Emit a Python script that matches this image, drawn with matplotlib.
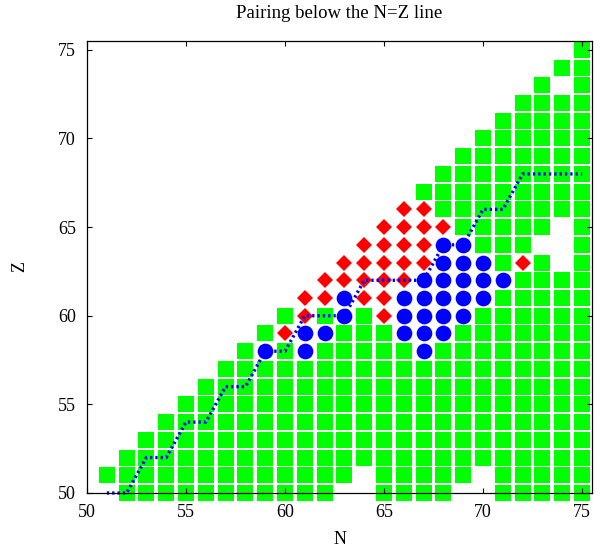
import matplotlib
matplotlib.use('Agg')
import matplotlib.pyplot as plt

plt.rcParams['font.family'] = ['Liberation Serif', 'DejaVu Serif']

# green cells, one run per (N, Zlow..Zhigh)
run_n  = [51, 52, 53, 54, 55, 56, 57, 58, 59, 59, 60, 60, 61, 62, 62, 63, 64, 65, 66,
          67, 67, 68, 68, 69, 69, 70, 70, 71, 71, 72, 72, 73, 73, 74, 74, 74, 75]
run_lo = [51, 50, 50, 50, 50, 50, 50, 50, 50, 59, 50, 60, 50, 50, 60, 51, 52, 50, 50,
          50, 67, 50, 66, 51, 65, 52, 64, 50, 63, 50, 64, 50, 65, 50, 66, 74, 50]
run_hi = [51, 52, 53, 54, 55, 56, 57, 58, 57, 59, 58, 60, 57, 58, 60, 59, 60, 59, 58,
          57, 67, 58, 68, 59, 69, 60, 70, 61, 71, 62, 72, 63, 73, 62, 72, 74, 75]

# red diamonds
red_n = [60, 61, 65, 61, 62, 64, 65, 62, 63, 64, 65, 66,
         63, 64, 65, 66, 67, 72, 64, 65, 66, 67, 65, 66, 67, 68, 66, 67]
red_z = [59, 60, 60, 61, 61, 61, 61, 62, 62, 62, 62, 62,
         63, 63, 63, 63, 63, 63, 64, 64, 64, 64, 65, 65, 65, 65, 66, 66]

# blue circles
blue_n = [59, 61, 67, 61, 62, 66, 67, 68, 63, 66, 67, 68, 69, 63, 66, 67, 68, 69, 70,
          67, 68, 69, 70, 71, 68, 69, 70, 68, 69]
blue_z = [58, 58, 58, 59, 59, 59, 59, 59, 60, 60, 60, 60, 60, 61, 61, 61, 61, 61, 61,
          62, 62, 62, 62, 62, 63, 63, 63, 64, 64]

# dotted staircase
path_n = [51, 52, 53, 54, 55, 56, 57, 58, 59, 60, 61, 63, 64, 67, 68, 69, 70, 71, 72, 75]
path_z = [50, 50, 52, 52, 54, 54, 56, 56, 58, 58, 60, 60, 62, 62, 64, 64, 66, 66, 68, 68]

green_n, green_z = [], []
for n, lo, hi in zip(run_n, run_lo, run_hi):
    for z in range(lo, hi + 1):
        green_n.append(n)
        green_z.append(z)

fig = plt.figure(figsize=(6, 5.5), dpi=100)
ax = fig.add_axes([87/600, 1-493/550, 505/600, 452/550])

ax.plot(green_n, green_z, ls='none', marker='s', ms=12, mew=0, color='#00ff00',
        clip_on=False, zorder=1)
ax.plot(red_n, red_z, ls='none', marker='D', ms=8.1, mew=0, color='#ff0000',
        clip_on=False, zorder=1.5)
ax.plot(path_n, path_z, color='#0000ff', lw=2.4, dashes=(0.7, 0.9),
        dash_capstyle='butt', clip_on=False, zorder=1.8)
ax.plot(blue_n, blue_z, ls='none', marker='o', ms=11.3, mew=0, color='#0000ff',
        clip_on=False, zorder=2)

ax.set_xlim(50, 75.5)
ax.set_ylim(50, 75.5)
ax.set_xticks([50, 55, 60, 65, 70, 75])
ax.set_yticks([50, 55, 60, 65, 70, 75])
ax.tick_params(direction='in', top=True, right=True, length=3.5, width=0.8,
               labelsize=13)
ax.tick_params(axis='x', pad=8)
ax.tick_params(axis='y', pad=8)
for s in ax.spines.values():
    s.set_linewidth(0.9)
    s.set_zorder(3)

ax.set_xlabel('N', fontsize=13)
ax.set_ylabel('Z', fontsize=13)
ax.xaxis.set_label_coords(0.5, (493-540)/452)
ax.xaxis.label.set_va('center')
ax.yaxis.set_label_coords((20-87)/505, 0.5)
ax.yaxis.label.set_va('center')

fig.text(339.5/600, 1-14/550, 'Pairing below the N=Z line', ha='center', va='center',
         fontsize=13.5)

fig.savefig('out.png', dpi=100)
